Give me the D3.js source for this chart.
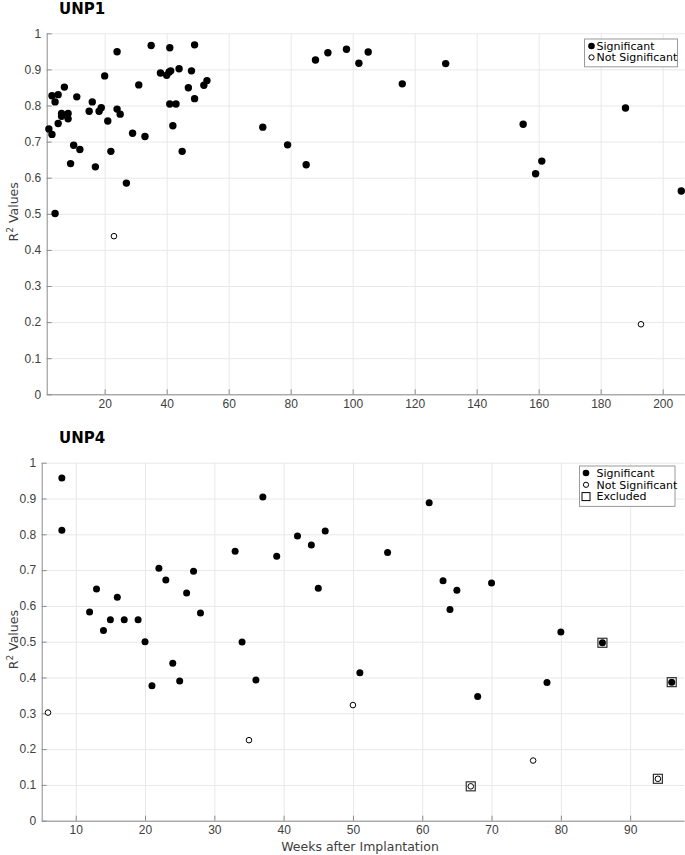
<!DOCTYPE html>
<html>
<head>
<meta charset="utf-8">
<script src="https://cdn.jsdelivr.net/npm/d3@7"></script>
<style>
  body { margin: 0; background: #fff; }
  svg { font-family: "DejaVu Sans", sans-serif; }
  .grid line { stroke: #e8e8e8; stroke-width: 1; }
  .grid path { display: none; }
  .axis path, .axis line { stroke: #8c8c8c; }
  .axis text { fill: #404040; font-size: 12px; }
  .panel-title { font-weight: bold; font-size: 15px; fill: #000; }
  .axis-label { font-size: 12.5px; fill: #404040; }
  .legend text { font-size: 11px; fill: #000; }
</style>
</head>
<body>
<div id="chart"></div>
<script>
// UNP1 values (weeks, R^2)
const unp1SigWeeks = [2, 3, 3, 4, 5, 5, 7, 6.1, 6.1, 8.2, 8.2, 11, 9, 10, 12, 15, 16, 17, 18.2, 18.9,
  20, 21, 22, 24, 24, 25, 27, 29, 31, 33, 35, 38, 40, 40.8, 41.3, 41, 41, 43, 42, 44, 45, 47, 48, 49, 49,
  52, 53, 4, 71, 79, 85, 88, 92, 98, 102, 105, 116, 130, 155, 161, 159, 188, 206];
const unp1SigR2 = [0.735, 0.720, 0.827, 0.810, 0.830, 0.750, 0.851, 0.778, 0.770, 0.778, 0.763, 0.824, 0.639, 0.690, 0.678, 0.784, 0.810, 0.630, 0.784, 0.794,
  0.882, 0.757, 0.673, 0.949, 0.790, 0.776, 0.585, 0.723, 0.857, 0.714, 0.966, 0.890, 0.884, 0.893, 0.896, 0.960, 0.804, 0.804, 0.744, 0.902, 0.673, 0.849, 0.896, 0.968, 0.819,
  0.856, 0.869, 0.501, 0.740, 0.691, 0.636, 0.926, 0.946, 0.956, 0.917, 0.948, 0.860, 0.916, 0.748, 0.646, 0.611, 0.793, 0.563];
const unp1NotSigWeeks = [23, 193];
const unp1NotSigR2 = [0.438, 0.194];

// UNP4 values
const unp4SigWeeks = [8, 8, 12, 13, 14, 15, 16, 17, 19, 20, 21, 22, 23, 24, 25, 26, 27, 28, 33, 34, 36, 37, 39,
  42, 44, 45, 46, 51, 55, 61, 63, 64, 65, 68, 70, 78, 80, 86, 96];
const unp4SigR2 = [0.957, 0.811, 0.583, 0.647, 0.531, 0.561, 0.624, 0.561, 0.561, 0.500, 0.377, 0.705, 0.672, 0.440, 0.390, 0.636, 0.697, 0.580, 0.753, 0.499, 0.393, 0.904, 0.739,
  0.795, 0.770, 0.649, 0.809, 0.413, 0.749, 0.888, 0.670, 0.590, 0.644, 0.347, 0.664, 0.386, 0.527, 0.497, 0.387];
const unp4NotSigWeeks = [6, 35, 50, 67, 76, 94];
const unp4NotSigR2 = [0.302, 0.225, 0.323, 0.096, 0.168, 0.117];
const unp4ExcludedWeeks = [67, 86, 94, 96];
const unp4ExcludedR2 = [0.096, 0.497, 0.117, 0.387];

const yTicks = [0, 0.1, 0.2, 0.3, 0.4, 0.5, 0.6, 0.7, 0.8, 0.9, 1];
const unp1XTicks = [20, 40, 60, 80, 100, 120, 140, 160, 180, 200];
const unp4XTicks = [10, 20, 30, 40, 50, 60, 70, 80, 90];

const zip = (xs, ys) => xs.map((x, i) => ({x: x, y: ys[i]}));

class ScatterPanel {

  constructor(_config, _data) {
    this.config = {
      svg: _config.svg,
      left: _config.left,
      top: _config.top,
      width: _config.width,
      height: _config.height,
      xDomain: _config.xDomain,
      xTicks: _config.xTicks,
      title: _config.title,
      xLabel: _config.xLabel || null,
      dotR: _config.dotR || 3.5,
      legend: _config.legend
    }
    this.data = _data;
    this.initVis();
  }

  initVis() {
    let vis = this;
    const c = vis.config;

    vis.chart = c.svg.append('g')
        .attr('transform', `translate(${c.left},${c.top})`);

    vis.xScale = d3.scaleLinear().domain(c.xDomain).range([0, c.width]);
    vis.yScale = d3.scaleLinear().domain([0, 1]).range([c.height, 0]);

    // grid
    vis.chart.append('g')
        .attr('class', 'grid')
        .attr('transform', `translate(0,${c.height})`)
        .call(d3.axisBottom(vis.xScale).tickValues(c.xTicks).tickSize(-c.height).tickFormat(''));
    vis.chart.append('g')
        .attr('class', 'grid')
        .call(d3.axisLeft(vis.yScale).tickValues(yTicks).tickSize(-c.width).tickFormat(''));

    vis.chart.append('g')
        .attr('class', 'axis')
        .attr('transform', `translate(0,${c.height})`)
        .call(d3.axisBottom(vis.xScale).tickValues(c.xTicks).tickSizeInner(-5).tickSizeOuter(0).tickPadding(5));
    vis.chart.append('g')
        .attr('class', 'axis')
        .call(d3.axisLeft(vis.yScale).tickValues(yTicks).tickSizeInner(-5).tickSizeOuter(0).tickPadding(5.5)
          .tickFormat(d => d3.format('~g')(d)));

    c.svg.append('text')
        .attr('class', 'panel-title')
        .attr('x', 59)
        .attr('y', c.top - 19.5)
        .text(c.title);

    const yl = c.svg.append('text')
        .attr('class', 'axis-label')
        .attr('text-anchor', 'middle')
        .attr('transform', `translate(18,${c.top + c.height / 2 - 2}) rotate(-90)`);
    yl.append('tspan').text('R');
    yl.append('tspan').attr('dy', -5).attr('font-size', '9px').text('2');
    yl.append('tspan').attr('dy', 5).text(' Values');

    if (c.xLabel) {
      c.svg.append('text')
          .attr('class', 'axis-label')
          .attr('text-anchor', 'middle')
          .attr('x', 360)
          .attr('y', c.top + c.height + 30)
          .text(c.xLabel);
    }

    vis.renderVis();
  }

  renderVis() {
    let vis = this;
    const c = vis.config;

    vis.chart.selectAll('.sig')
        .data(vis.data.sig)
      .join('circle')
        .attr('class', 'sig')
        .attr('cx', d => vis.xScale(d.x))
        .attr('cy', d => vis.yScale(d.y))
        .attr('r', c.dotR)
        .attr('fill', '#000');

    vis.chart.selectAll('.notsig')
        .data(vis.data.notSig)
      .join('circle')
        .attr('class', 'notsig')
        .attr('cx', d => vis.xScale(d.x))
        .attr('cy', d => vis.yScale(d.y))
        .attr('r', 2.8)
        .attr('fill', '#fff')
        .attr('stroke', '#000')
        .attr('stroke-width', 1);

    vis.chart.selectAll('.excluded')
        .data(vis.data.excluded || [])
      .join('rect')
        .attr('class', 'excluded')
        .attr('x', d => vis.xScale(d.x) - 4.5)
        .attr('y', d => vis.yScale(d.y) - 4.5)
        .attr('width', 9)
        .attr('height', 9)
        .attr('fill', 'none')
        .attr('stroke', '#333')
        .attr('stroke-width', 1.2);

    // legend
    const lg = c.legend;
    const legend = c.svg.append('g')
        .attr('class', 'legend')
        .attr('transform', `translate(${lg.x},${lg.y})`);
    legend.append('rect')
        .attr('width', lg.width)
        .attr('height', lg.items.length * lg.rowH + 5)
        .attr('fill', '#fff')
        .attr('stroke', '#9a9a9a');
    const rows = legend.selectAll('.row')
        .data(lg.items)
      .join('g')
        .attr('class', 'row')
        .attr('transform', (d, i) => `translate(0,${7 + i * lg.rowH})`);
    rows.each(function(d) {
      const g = d3.select(this);
      if (d === 'Significant') {
        g.append('circle').attr('cx', lg.markX).attr('cy', 0).attr('r', 3.3).attr('fill', '#000');
      } else if (d === 'Not Significant') {
        g.append('circle').attr('cx', lg.markX).attr('cy', 0).attr('r', 2.6)
          .attr('fill', '#fff').attr('stroke', '#000');
      } else {
        g.append('rect').attr('x', lg.markX - 4).attr('y', -4).attr('width', 8).attr('height', 8)
          .attr('fill', 'none').attr('stroke', '#000');
      }
      g.append('text').attr('x', lg.textX).attr('dy', '0.35em').text(d);
    });
  }
}

const svg = d3.select('#chart').append('svg')
    .attr('width', 685)
    .attr('height', 855);

new ScatterPanel({
  svg: svg, left: 46.7, top: 33.3, width: 638, height: 361,
  xDomain: [1.3, 207.1], xTicks: unp1XTicks, title: 'UNP1', dotR: 3.7,
  legend: {x: 584.5, y: 39, width: 93, rowH: 11.4, markX: 7, textX: 12, items: ['Significant', 'Not Significant']}
}, {
  sig: zip(unp1SigWeeks, unp1SigR2),
  notSig: zip(unp1NotSigWeeks, unp1NotSigR2)
});

new ScatterPanel({
  svg: svg, left: 41.7, top: 462.7, width: 642.3, height: 358,
  xDomain: [5.09, 97.77], xTicks: unp4XTicks, title: 'UNP4', xLabel: 'Weeks after Implantation', dotR: 3.5,
  legend: {x: 579.5, y: 466, width: 95.5, rowH: 11.8, markX: 6.5, textX: 17, items: ['Significant', 'Not Significant', 'Excluded']}
}, {
  sig: zip(unp4SigWeeks, unp4SigR2),
  notSig: zip(unp4NotSigWeeks, unp4NotSigR2),
  excluded: zip(unp4ExcludedWeeks, unp4ExcludedR2)
});
</script>
</body>
</html>
